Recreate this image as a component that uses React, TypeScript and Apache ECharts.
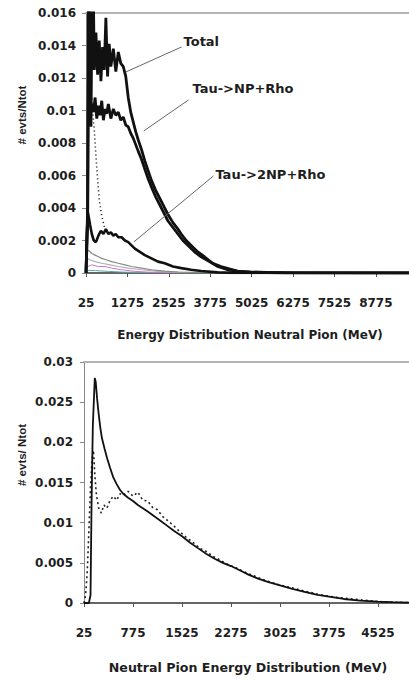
import React, { useEffect, useRef } from "react";
import * as echarts from "echarts";

// ---------- top chart data: [energy MeV, #evts/Ntot] ----------
const topXTickStep = 1250;
const topXMax = 9775;
const topYMax = 0.016;
const topYStep = 0.002;

const totalData: [number, number][] = [
  [25, 0], [75, 0.004], [125, 0.022], [175, 0.009], [225, 0.021], [275, 0.0125],
  [325, 0.0148], [375, 0.0122], [425, 0.0143], [475, 0.0118], [525, 0.0139],
  [575, 0.0125], [625, 0.0157], [675, 0.0121], [725, 0.0141], [775, 0.0127],
  [850, 0.0138], [925, 0.0124], [1000, 0.0136], [1075, 0.0129], [1150, 0.0127],
  [1225, 0.0121], [1300, 0.0108], [1375, 0.0099], [1450, 0.0093], [1525, 0.0087],
  [1600, 0.0082], [1700, 0.0076], [1800, 0.0069], [1900, 0.0063], [2000, 0.0057],
  [2125, 0.0051], [2250, 0.0046], [2375, 0.0041], [2500, 0.0036], [2650, 0.0031],
  [2800, 0.0027], [2900, 0.0024], [3050, 0.002], [3200, 0.0017], [3400, 0.0013],
  [3600, 0.001], [3850, 0.0006], [4100, 0.0004], [4350, 0.00025], [4600, 0.00012],
  [5000, 0.00006], [5500, 0.00003], [6300, 0.00001], [9775, 0],
];

const npRhoData: [number, number][] = [
  [25, 0], [75, 0.003], [100, 0.02], [150, 0.0095], [200, 0.0104], [250, 0.0099],
  [300, 0.0108], [350, 0.0095], [400, 0.0103], [450, 0.0097], [500, 0.0106],
  [550, 0.0094], [600, 0.0101], [650, 0.0098], [700, 0.0104], [775, 0.0095],
  [850, 0.0101], [925, 0.0097], [1000, 0.0099], [1075, 0.0094], [1150, 0.0096],
  [1225, 0.0091], [1300, 0.009], [1375, 0.0086], [1450, 0.0083], [1525, 0.0079],
  [1600, 0.0075], [1700, 0.007], [1800, 0.0064], [1900, 0.0058], [2000, 0.0053],
  [2125, 0.0047], [2250, 0.0042], [2375, 0.0037], [2500, 0.0032], [2650, 0.0028],
  [2800, 0.0024], [2950, 0.002], [3100, 0.0017], [3300, 0.0013], [3500, 0.001],
  [3750, 0.0007], [4000, 0.0004], [4300, 0.0002], [4600, 0.0001], [5000, 0.00005],
  [6000, 0.00001], [9775, 0],
];

const twoNpRhoData: [number, number][] = [
  [25, 0], [50, 0.0025], [85, 0.0037], [145, 0.003], [200, 0.0024], [260, 0.002],
  [325, 0.0019], [400, 0.0023], [475, 0.0026], [550, 0.0024], [625, 0.0027],
  [700, 0.0024], [775, 0.0025], [850, 0.0023], [925, 0.0024], [1000, 0.0022],
  [1100, 0.0022], [1200, 0.002], [1300, 0.0019], [1400, 0.0017], [1500, 0.0015],
  [1650, 0.0013], [1800, 0.0011], [2000, 0.0009], [2200, 0.0007], [2400, 0.0006],
  [2650, 0.0004], [2900, 0.0003], [3200, 0.0002], [3500, 0.00012], [4000, 0.00004],
  [4500, 0.00001], [9775, 0],
];

const dottedTopData: [number, number][] = [
  [25, 0], [75, 0.006], [125, 0.0125], [200, 0.0105], [275, 0.0088], [325, 0.0072],
  [375, 0.0058], [425, 0.0045], [500, 0.0035], [600, 0.0027], [700, 0.0024],
];

const grayData: [number, number][] = [
  [25, 0], [50, 0.0013], [100, 0.0014], [200, 0.0012], [300, 0.0011], [400, 0.001],
  [500, 0.0009], [650, 0.0008], [800, 0.0007], [1000, 0.0006], [1200, 0.0005],
  [1400, 0.0004], [1700, 0.0003], [2000, 0.0002], [2400, 0.00012], [2800, 0.00006],
  [3500, 0.00002], [9775, 0],
];

const lightGrayData: [number, number][] = [
  [25, 0], [50, 0.0009], [150, 0.0008], [300, 0.0007], [500, 0.0006], [750, 0.0005],
  [1000, 0.0004], [1300, 0.0003], [1700, 0.0002], [2200, 0.0001], [3000, 0.00003],
  [9775, 0],
];

const pinkData: [number, number][] = [
  [25, 0], [75, 0.0004], [200, 0.0005], [400, 0.0004], [600, 0.0004], [800, 0.0003],
  [1100, 0.0002], [1500, 0.0001], [2000, 0.00004], [9775, 0],
];

const tealData: [number, number][] = [
  [25, 0], [75, 0.00015], [300, 0.00015], [700, 0.0001], [1200, 0.00005],
  [2000, 0.00001], [9775, 0],
];

// annotation labels (data coordinates of the top chart)
const annotationTexts = ["Total", "Tau->NP+Rho", "Tau->2NP+Rho"];
const annotationAnchor: [number, number][] = [[2970, 0.01422], [3240, 0.01138], [3932, 0.00609]];
const leaderFrom: [number, number][] = [[2910, 0.01391], [3120, 0.01065], [3871, 0.00597]];
const leaderTo: [number, number][] = [[1227, 0.01237], [1768, 0.00874], [1467, 0.00191]];

// ---------- bottom chart data ----------
const botXTickStep = 750;
const botXMax = 5000;
const botYMax = 0.03;
const botYStep = 0.005;

const solidBottomData: [number, number][] = [
  [25, 0], [100, 0], [125, 0.001], [140, 0.012], [160, 0.022], [190, 0.028],
  [205, 0.0275], [225, 0.0255], [250, 0.0235], [275, 0.0218], [300, 0.0205],
  [340, 0.0192], [380, 0.018], [425, 0.0168], [475, 0.0156], [525, 0.0148],
  [575, 0.0141], [625, 0.0136], [700, 0.0131], [775, 0.0127], [850, 0.0122],
  [925, 0.0118], [1000, 0.0114], [1100, 0.0108], [1200, 0.0102], [1300, 0.0096],
  [1400, 0.009], [1525, 0.0083], [1650, 0.0075], [1775, 0.0068], [1900, 0.0061],
  [2025, 0.0055], [2150, 0.005], [2275, 0.0046], [2400, 0.0041], [2550, 0.0035],
  [2700, 0.003], [2850, 0.0026], [3025, 0.0022], [3200, 0.0018], [3400, 0.0014],
  [3600, 0.001], [3775, 0.0008], [4000, 0.0005], [4250, 0.0003], [4525, 0.00018],
  [4750, 0.0001], [5000, 0.00005],
];

const dottedBottomData: [number, number][] = [
  [25, 0], [50, 0.001], [75, 0.004], [100, 0.009], [125, 0.0145], [150, 0.018],
  [170, 0.019], [190, 0.016], [215, 0.0135], [250, 0.0118], [290, 0.0112],
  [330, 0.0122], [375, 0.0118], [425, 0.0128], [475, 0.0133], [525, 0.0128],
  [575, 0.0136], [625, 0.0134], [700, 0.0139], [775, 0.0133], [850, 0.0138],
  [925, 0.0128], [1000, 0.0127], [1075, 0.0119], [1150, 0.0116], [1225, 0.0108],
  [1300, 0.0103], [1400, 0.0096], [1500, 0.0088], [1600, 0.0081], [1700, 0.0075],
  [1800, 0.0068], [1900, 0.0064], [2000, 0.0058], [2100, 0.0054], [2200, 0.0049],
  [2350, 0.0044], [2500, 0.0038], [2650, 0.0033], [2800, 0.0028], [3000, 0.0023],
  [3200, 0.0019], [3400, 0.0015], [3600, 0.0011], [3800, 0.0008], [4000, 0.0006],
  [4250, 0.0004], [4500, 0.0002], [4750, 0.0001], [5000, 0.00005],
];

const ORIGIN = 25; // first category energy (MeV)
const shift = (d: [number, number][]) => d.map(([e, v]) => [e - ORIGIN, v]);

const TICK_FONT = "DejaVu Sans";
const TEXT_COLOR = "#1e1e1e";

function xAxisCfg(gridIndex: number, max: number, step: number, margin: number) {
  return {
    type: "value",
    gridIndex,
    min: 0,
    max: max - ORIGIN,
    interval: step,
    axisLine: { show: true, onZero: false, lineStyle: { color: "#333", width: 1.5 } },
    axisTick: { show: true, length: 4, lineStyle: { color: "#555" } },
    axisLabel: {
      margin,
      color: TEXT_COLOR,
      fontFamily: TICK_FONT,
      fontWeight: "bold",
      fontSize: 12,
      showMaxLabel: false,
      formatter: (v: number) => String(Math.round(v + ORIGIN)),
    },
    splitLine: { show: false },
  };
}

function topBorderAxis(gridIndex: number, max: number) {
  return {
    type: "value",
    gridIndex,
    position: "top",
    min: 0,
    max: max - ORIGIN,
    axisLine: { show: true, onZero: false, lineStyle: { color: "#b4b4b4", width: 2 } },
    axisTick: { show: false },
    axisLabel: { show: false },
    splitLine: { show: false },
  };
}

function yAxisCfg(gridIndex: number, max: number, step: number, margin: number) {
  return {
    type: "value",
    gridIndex,
    min: 0,
    max,
    interval: step,
    axisLine: { show: true, lineStyle: { color: "#8a8a8a", width: 1 } },
    axisTick: { show: true, length: 4, lineStyle: { color: "#8a8a8a" } },
    axisLabel: {
      margin,
      color: TEXT_COLOR,
      fontFamily: TICK_FONT,
      fontWeight: "bold",
      fontSize: 12,
      formatter: (v: number) => String(+v.toFixed(4)),
    },
    splitLine: { show: false },
  };
}

function lineSeries(
  data: [number, number][],
  xAxisIndex: number,
  yAxisIndex: number,
  color: string,
  width: number,
  type: any = "solid",
  z = 2
) {
  return {
    type: "line",
    xAxisIndex,
    yAxisIndex,
    data: shift(data),
    showSymbol: false,
    symbol: "none",
    clip: true,
    z,
    lineStyle: { color, width, type },
  };
}

export default function App() {
  const ref = useRef<HTMLDivElement>(null);

  useEffect(() => {
    if (!ref.current) return;
    const chart = echarts.init(ref.current, undefined, { renderer: "svg" });

    const option: any = {
      animation: false,
      backgroundColor: "#ffffff",
      grid: [
        { left: 86, top: 13, width: 323, height: 260 },
        { left: 84, top: 362, width: 325, height: 241 },
      ],
      xAxis: [
        xAxisCfg(0, topXMax, topXTickStep, 24),
        xAxisCfg(1, botXMax, botXTickStep, 24),
        topBorderAxis(0, topXMax),
        topBorderAxis(1, botXMax),
      ],
      yAxis: [yAxisCfg(0, topYMax, topYStep, 10), yAxisCfg(1, botYMax, botYStep, 11)],
      series: [
        lineSeries(tealData, 0, 0, "#5aa8a8", 1),
        lineSeries(pinkData, 0, 0, "#c878c8", 1),
        lineSeries(lightGrayData, 0, 0, "#b0b0b0", 1.2),
        lineSeries(grayData, 0, 0, "#888888", 1.2),
        lineSeries(dottedTopData, 0, 0, "#111", 1.6, [1, 3]),
        lineSeries(twoNpRhoData, 0, 0, "#111", 2.6, "solid", 3),
        lineSeries(npRhoData, 0, 0, "#111", 2.8, "solid", 3),
        lineSeries(totalData, 0, 0, "#111", 2.8, "solid", 3),
        lineSeries(dottedBottomData, 1, 1, "#222", 1.6, [2, 3]),
        lineSeries(solidBottomData, 1, 1, "#111", 1.8, "solid", 3),
      ],
    };
    chart.setOption(option);

    const px = (p: [number, number]) =>
      chart.convertToPixel({ gridIndex: 0 } as any, [p[0] - ORIGIN, p[1]]) as number[];

    const titleFont = (size: number) => ({
      fontFamily: TICK_FONT,
      fontWeight: "bold",
      fontSize: size,
      fill: TEXT_COLOR,
    });

    const graphics: any[] = [];
    annotationTexts.forEach((t, i) => {
      const a = px(annotationAnchor[i]);
      const f = px(leaderFrom[i]);
      const to = px(leaderTo[i]);
      graphics.push({
        type: "line",
        shape: { x1: f[0], y1: f[1], x2: to[0], y2: to[1] },
        style: { stroke: "#666", lineWidth: 1 },
        z: 10,
      });
      graphics.push({
        type: "text",
        x: a[0],
        y: a[1],
        style: { text: t, ...titleFont(13), align: "left", verticalAlign: "middle" },
        z: 10,
      });
    });
    graphics.push(
      {
        type: "text",
        x: 250,
        y: 335,
        style: { text: "Energy Distribution Neutral Pion (MeV)", ...titleFont(12), align: "center", verticalAlign: "middle" },
      },
      {
        type: "text",
        x: 248,
        y: 667,
        style: { text: "Neutral Pion Energy Distribution (MeV)", ...titleFont(12.6), align: "center", verticalAlign: "middle" },
      },
      {
        type: "text",
        x: 22,
        y: 115,
        rotation: Math.PI / 2,
        style: { text: "# evts/Ntot", fontFamily: "Liberation Sans", fontWeight: "bold", fontSize: 11.5, fill: TEXT_COLOR, align: "center", verticalAlign: "middle" },
      },
      {
        type: "text",
        x: 22,
        y: 455,
        rotation: Math.PI / 2,
        style: { text: "# evts/ Ntot", fontFamily: "Liberation Sans", fontWeight: "bold", fontSize: 11.5, fill: TEXT_COLOR, align: "center", verticalAlign: "middle" },
      }
    );
    chart.setOption({ graphic: graphics });

    return () => chart.dispose();
  }, []);

  return (
    <div
      ref={ref}
      style={{ position: "fixed", left: 0, top: 0, width: 409, height: 683, background: "#fff" }}
    />
  );
}
